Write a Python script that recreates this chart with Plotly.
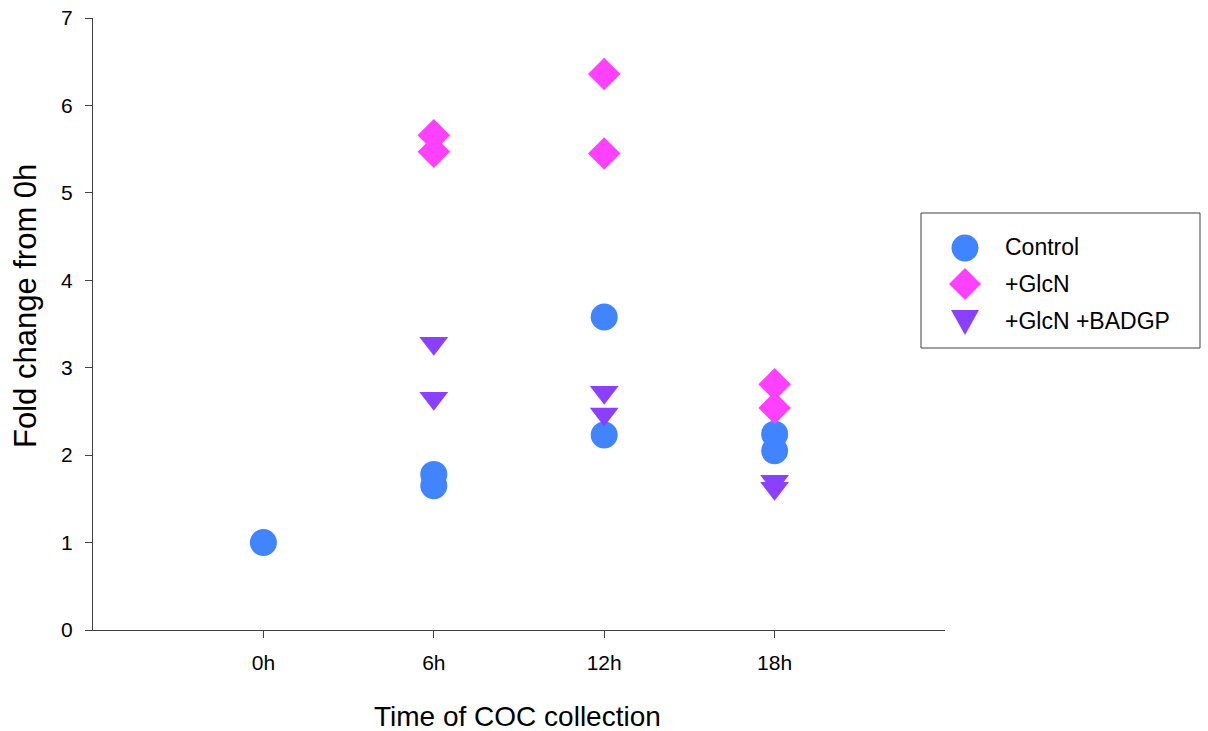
import plotly.graph_objects as go

categories = ["0h", "6h", "12h", "18h"]

control_x = ["0h", "6h", "6h", "12h", "12h", "18h", "18h"]
control_y = [1.00, 1.78, 1.65, 3.58, 2.23, 2.24, 2.05]

glcn_x = ["6h", "6h", "12h", "12h", "18h", "18h"]
glcn_y = [5.66, 5.47, 6.36, 5.45, 2.81, 2.54]

badgp_x = ["6h", "6h", "12h", "12h", "18h", "18h"]
badgp_y = [3.28, 2.65, 2.72, 2.47, 1.70, 1.62]

FONT = "Arial, Liberation Sans, sans-serif"
AX = "#404040"
C_CTRL, C_GLCN, C_BADGP = "#4084FF", "#FF40FF", "#8C40FF"

# plot area in pixels
L, R, T, B = 93, 945, 18, 630
W, H = R - L, B - T


def px_x(p):
    return (p - L) / W


def px_y(p):
    return (B - p) / H


fig = go.Figure()
fig.add_trace(go.Scatter(x=control_x, y=control_y, mode="markers", name="Control",
                         legendgroup="a",
                         marker=dict(symbol="circle", size=27, color=C_CTRL)))
fig.add_trace(go.Scatter(x=glcn_x, y=glcn_y, mode="markers", name="+GlcN",
                         legendgroup="b",
                         marker=dict(symbol="diamond", size=25, color=C_GLCN)))
fig.add_trace(go.Scatter(x=badgp_x, y=badgp_y, mode="markers", name="+GlcN +BADGP",
                         legendgroup="c",
                         marker=dict(symbol="triangle-down", size=25, color=C_BADGP)))

# enlarged legend keys (drawn over the small legend symbols)
key_x = px_x(965)
legend_keys = [
    dict(type="circle", xref="paper", yref="paper", xsizemode="pixel", ysizemode="pixel",
         xanchor=key_x, yanchor=px_y(248), x0=-13.5, x1=13.5, y0=-13.5, y1=13.5,
         fillcolor=C_CTRL, line=dict(width=0), layer="above"),
    dict(type="path", xref="paper", yref="paper", xsizemode="pixel", ysizemode="pixel",
         xanchor=key_x, yanchor=px_y(284), path="M0,16 L16,0 L0,-16 L-16,0 Z",
         fillcolor=C_GLCN, line=dict(width=0), layer="above"),
    dict(type="path", xref="paper", yref="paper", xsizemode="pixel", ysizemode="pixel",
         xanchor=key_x, yanchor=px_y(322), path="M-14,12 L14,12 L0,-13 Z",
         fillcolor=C_BADGP, line=dict(width=0), layer="above"),
]

fig.update_layout(
    width=1208, height=731,
    margin=dict(l=L, r=1208 - R, t=T, b=731 - B, autoexpand=False),
    paper_bgcolor="white", plot_bgcolor="white",
    font=dict(family=FONT, color="black"),
    showlegend=True,
    legend=dict(x=px_x(925), y=px_y(225), xanchor="left", yanchor="top",
                xref="paper", yref="paper",
                font=dict(size=23, family=FONT, color="black"),
                itemwidth=70, traceorder="grouped", tracegroupgap=4,
                bgcolor="rgba(0,0,0,0)", borderwidth=0),
    xaxis=dict(type="category", categoryorder="array", categoryarray=categories,
               range=[-1, 4], showgrid=False, zeroline=False, automargin=False,
               showline=True, linecolor=AX, linewidth=1,
               ticks="outside", ticklen=7, tickcolor=AX, tickwidth=1,
               tickfont=dict(size=21, family=FONT, color="black"),
               ticklabelstandoff=7),
    yaxis=dict(range=[0, 7], dtick=1, showgrid=False, zeroline=False, automargin=False,
               showline=True, linecolor=AX, linewidth=1,
               ticks="outside", ticklen=7, tickcolor=AX, tickwidth=1,
               tickfont=dict(size=21, family=FONT, color="black"),
               ticklabelstandoff=8),
    shapes=[dict(type="rect", xref="paper", yref="paper",
                 x0=px_x(921), x1=px_x(1200), y0=px_y(348), y1=px_y(213),
                 line=dict(color=AX, width=1), fillcolor="rgba(0,0,0,0)")] + legend_keys,
    annotations=[
        dict(text="Time of COC collection", xref="paper", yref="paper",
             x=px_x(517), y=px_y(716), xanchor="center", yanchor="middle",
             showarrow=False, font=dict(size=28, family=FONT, color="black")),
        dict(text="Fold change from 0h", xref="paper", yref="paper",
             x=px_x(25), y=px_y(306), xanchor="center", yanchor="middle",
             textangle=-90, showarrow=False,
             font=dict(size=31, family=FONT, color="black")),
    ],
)

fig.write_html("out.html")
